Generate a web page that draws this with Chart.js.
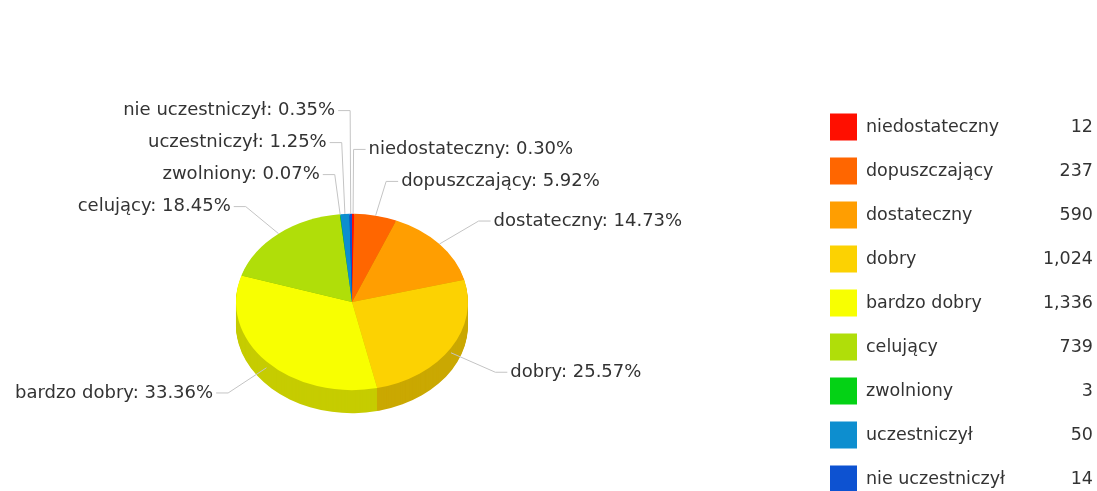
<!DOCTYPE html>
<html>
<head>
<meta charset="utf-8">
<script src="https://cdn.jsdelivr.net/npm/chart.js@4"></script>
<style>
  html,body{margin:0;padding:0;background:#fff;overflow:hidden;}
  canvas{display:block;}
</style>
</head>
<body>
<canvas id="pie" width="1097" height="491"></canvas>
<script>
const labels = ['niedostateczny','dopuszczający','dostateczny','dobry','bardzo dobry','celujący','zwolniony','uczestniczył','nie uczestniczył'];
const counts = [12,237,590,1024,1336,739,3,50,14];
const colors = ['#FF0F00','#FF6600','#FF9E01','#FCD202','#F8FF01','#B0DE09','#04D215','#0D8ECF','#0D52D1'];

const LABEL_FONT = '18px "DejaVu Sans", Verdana, sans-serif';
const LEGEND_FONT = '17.5px "DejaVu Sans", Verdana, sans-serif';
const TILT = 0.76;   // vertical squash of the top face
const DEPTH = 23;    // thickness of the pie, px
const total = counts.reduce((a,b)=>a+b,0);

function shade(hex,f){
  const n = parseInt(hex.slice(1),16);
  const r = Math.round(((n>>16)&255)*f), g = Math.round(((n>>8)&255)*f), b = Math.round((n&255)*f);
  return `rgb(${r},${g},${b})`;
}

// draws the 3D side and squashes the top face into an ellipse
const pie3d = {
  id:'pie3d',
  beforeDatasetsDraw(chart){
    const ctx = chart.ctx;
    const arcs = chart.getDatasetMeta(0).data;
    if(!arcs.length) return;
    const cx = arcs[0].x, cy = arcs[0].y, r = arcs[0].outerRadius;
    for(let d=DEPTH; d>=1; d--){
      arcs.forEach((a,i)=>{
        ctx.beginPath();
        ctx.moveTo(cx, cy+d);
        ctx.ellipse(cx, cy+d, r, r*TILT, 0, a.startAngle, a.endAngle);
        ctx.closePath();
        ctx.fillStyle = shade(colors[i],0.8);
        ctx.fill();
      });
    }
    ctx.save();
    ctx.translate(cx,cy);
    ctx.scale(1,TILT);
    ctx.translate(-cx,-cy);
  },
  afterDatasetsDraw(chart){
    chart.ctx.restore();
  }
};

// slice labels with leader lines
const sliceLabels = {
  id:'sliceLabels',
  afterDraw(chart){
    const ctx = chart.ctx;
    const arcs = chart.getDatasetMeta(0).data;
    const cx = arcs[0].x, cy = arcs[0].y, rx = arcs[0].outerRadius, ry = rx*TILT;
    const items = arcs.map((a,i)=>{
      const m = (a.startAngle+a.endAngle)/2;
      const c = Math.cos(m), s = Math.sin(m);
      const low = s>0 ? DEPTH*0.5*s : 0;
      return {
        i, c, s,
        ex: cx + rx*c,
        ey: cy + ry*s + low*0.8,
        lx: cx + (rx+52)*c,
        ly: cy + (ry+35)*s + low,
        right: c>=0
      };
    });
    const gap = 32;
    [true,false].forEach(side=>{
      const list = items.filter(o=>o.right===side).sort((a,b)=>b.ly-a.ly);
      let prev = Infinity;
      list.forEach(o=>{
        o.y = Math.min(o.ly, prev-gap);
        prev = o.y;
      });
    });
    ctx.save();
    ctx.font = LABEL_FONT;
    ctx.textBaseline = 'middle';
    items.forEach(o=>{
      const dir = o.right ? 1 : -1;
      ctx.strokeStyle = '#c4c4c4';
      ctx.lineWidth = 1;
      ctx.beginPath();
      ctx.moveTo(o.ex, o.ey);
      ctx.lineTo(o.lx, o.y);
      ctx.lineTo(o.lx + dir*12, o.y);
      ctx.stroke();
      ctx.fillStyle = '#333';
      ctx.textAlign = o.right ? 'left' : 'right';
      const pct = (counts[o.i]/total*100).toFixed(2);
      ctx.fillText(`${labels[o.i]}: ${pct}%`, o.lx + dir*15, o.y);
    });
    ctx.restore();
  }
};

// legend with right aligned values
const sideLegend = {
  id:'sideLegend',
  afterDraw(chart){
    const ctx = chart.ctx;
    const x0 = 830, y0 = 127, step = 44, box = 27, valX = 1093;
    ctx.save();
    ctx.font = LEGEND_FONT;
    ctx.textBaseline = 'middle';
    labels.forEach((l,i)=>{
      const y = y0 + i*step;
      ctx.fillStyle = colors[i];
      ctx.fillRect(x0, y-box/2, box, box);
      ctx.fillStyle = '#333';
      ctx.textAlign = 'left';
      ctx.fillText(l, x0+36, y);
      ctx.textAlign = 'right';
      ctx.fillText(counts[i].toLocaleString('en-US'), valX, y);
    });
    ctx.restore();
  }
};

new Chart(document.getElementById('pie'), {
  type:'pie',
  data:{
    labels,
    datasets:[{
      data:counts,
      backgroundColor:colors,
      borderWidth:0
    }]
  },
  options:{
    responsive:false,
    animation:false,
    layout:{padding:{left:236, right:629, top:186, bottom:73}},
    plugins:{
      legend:{display:false},
      tooltip:{enabled:false}
    }
  },
  plugins:[pie3d, sliceLabels, sideLegend]
});
</script>
</body>
</html>
